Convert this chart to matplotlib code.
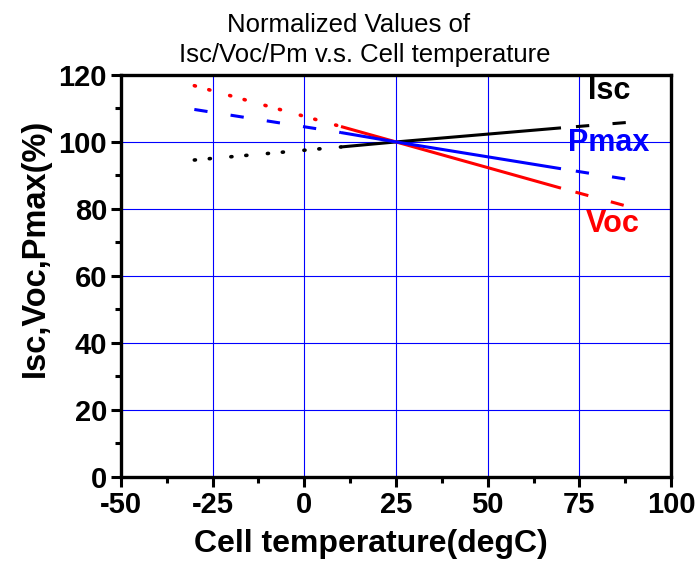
#!/usr/bin/env python
"""Normalized Isc/Voc/Pmax vs cell temperature."""

import matplotlib

matplotlib.use("Agg")
import matplotlib.pyplot as plt
from matplotlib import font_manager
from matplotlib.ticker import MultipleLocator

plt.rcParams["font.family"] = ["Liberation Sans", "DejaVu Sans"]
plt.rcParams["lines.scale_dashes"] = False
plt.rcParams["axes.unicode_minus"] = False

# temperature break points: dotted/dashed below 10, solid 10..70, dashed above 70
temp_low = [-30, 10]
temp_mid = [10, 25, 70]
temp_high = [70, 90]

isc_low = [94.6, 98.5]
isc_mid = [98.5, 100, 104.2]
isc_high = [104.2, 106.0]

voc_low = [116.8, 104.6]
voc_mid = [104.6, 100, 86.2]
voc_high = [86.2, 80.2]

pmax_low = [109.7, 102.8]
pmax_mid = [102.8, 100, 92.0]
pmax_high = [92.0, 88.5]

title_lines = ["Normalized Values of", "Isc/Voc/Pm v.s. Cell temperature"]

DOTS = (0, (0.8, 10.0, 0.8, 14.8))
DASH = (0, (9.6, 16.8))
DASH_R = (15.6, (9.6, 16.8))
LW = 2.2


def narrow_family():
    try:
        font_manager.findfont(font_manager.FontProperties(family="Liberation Sans Narrow"),
                              fallback_to_default=False)
        return "Liberation Sans Narrow", 24
    except ValueError:
        return "Liberation Sans", 21


def main() -> None:
    tick_family, tick_size = narrow_family()

    fig = plt.figure(figsize=(6.97, 5.68), dpi=100)
    ax = fig.add_axes([0.1736, 0.1607, 0.7891, 0.7073])

    for xv in [-25, 0, 25, 50, 75]:
        ax.axvline(xv, color="#0000ff", lw=0.8, zorder=1)
    for yv in [20, 40, 60, 80, 100]:
        ax.axhline(yv, color="#0000ff", lw=0.8, zorder=1)

    series = [
        ("black", isc_low, isc_mid, isc_high, DOTS),
        ("#ff0000", voc_low, voc_mid, voc_high, DOTS),
        ("#0000ff", pmax_low, pmax_mid, pmax_high, DASH),
    ]
    for color, low, mid, high, low_style in series:
        dotted = low_style is DOTS
        ax.plot(temp_low, low, color=color, lw=2.6 if dotted else LW,
                linestyle=low_style,
                dash_capstyle="round" if dotted else "butt", zorder=3)
        ax.plot(temp_mid, mid, color=color, lw=LW, solid_capstyle="butt", zorder=3)
        ax.plot(temp_high, high, color=color, lw=LW, linestyle=DASH_R,
                dash_capstyle="butt", zorder=3)

    ax.text(83.1, 115.1, "Isc", color="black", fontsize=22, fontweight="bold",
            ha="center", va="center")
    ax.text(83.1, 99.6, "Pmax", color="#0000ff", fontsize=22, fontweight="bold",
            ha="center", va="center")
    ax.text(84.2, 75.4, "Voc", color="#ff0000", fontsize=22, fontweight="bold",
            ha="center", va="center")

    ax.set_xlim(-50, 100)
    ax.set_ylim(0, 120)
    ax.xaxis.set_major_locator(MultipleLocator(25))
    ax.xaxis.set_minor_locator(MultipleLocator(12.5))
    ax.yaxis.set_major_locator(MultipleLocator(20))
    ax.yaxis.set_minor_locator(MultipleLocator(10))
    ax.tick_params(which="major", direction="out", length=7, width=2.2,
                   labelsize=tick_size, pad=3)
    ax.tick_params(which="minor", direction="out", length=4, width=2.2)
    for lab in ax.get_xticklabels() + ax.get_yticklabels():
        lab.set_fontweight("bold")
        lab.set_family(tick_family)
    for sp in ax.spines.values():
        sp.set_linewidth(2.4)

    ax.set_xlabel("Cell temperature(degC)", fontsize=23, fontweight="bold")
    ax.xaxis.set_label_coords(0.4545, -0.130)
    ax.set_ylabel("Isc,Voc,Pmax(%)", fontsize=23.5, fontweight="bold")
    ax.yaxis.set_label_coords(-0.127, 0.5706)

    # title: two centred lines, the second one slightly right of the first
    fig.text(349 / 697, 1 - 32 / 568, title_lines[0], fontsize=18.5,
             ha="center", va="baseline")
    fig.text(365 / 697, 1 - 62 / 568, title_lines[1], fontsize=18.5,
             ha="center", va="baseline")

    fig.savefig("out.png", dpi=100)
    plt.close(fig)


if __name__ == "__main__":
    main()
